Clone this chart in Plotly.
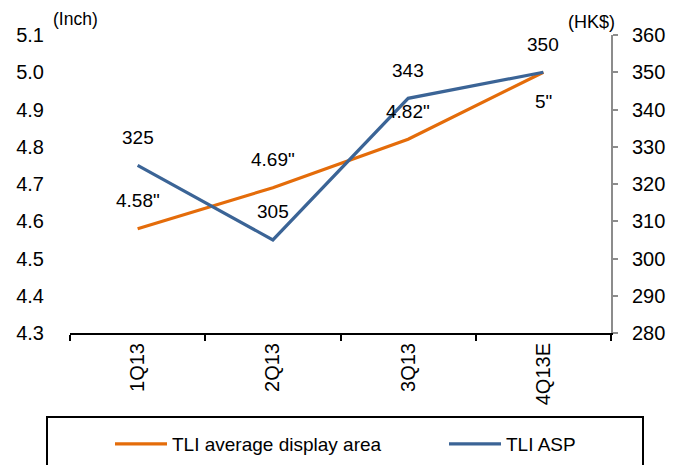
import plotly.graph_objects as go

categories = ["1Q13", "2Q13", "3Q13", "4Q13E"]
display_area = [4.58, 4.69, 4.82, 5.0]
display_labels = ['4.58"', '4.69"', '4.82"', '5"']
asp = [325, 305, 343, 350]
asp_labels = ["325", "305", "343", "350"]
left_ticks = [4.3, 4.4, 4.5, 4.6, 4.7, 4.8, 4.9, 5.0, 5.1]
right_ticks = [280, 290, 300, 310, 320, 330, 340, 350, 360]

ORANGE = "#E46C0A"
BLUE = "#3B6496"
FONT = "Liberation Sans, Arial, sans-serif"

W, H = 674, 465
L, R, T, B = 70, 611, 35, 333
pw, ph = R - L, B - T
def px(x):
    return (x - L) / pw
def py(y):
    return (B - y) / ph

fig = go.Figure()
fig.add_trace(go.Scatter(x=categories, y=display_area, mode="lines",
                         name="TLI average display area", legend="legend",
                         line=dict(color=ORANGE, width=3.2), yaxis="y"))
fig.add_trace(go.Scatter(x=categories, y=asp, mode="lines",
                         name="TLI ASP", legend="legend2",
                         line=dict(color=BLUE, width=3.2), yaxis="y2"))

annotations = []
for i, c in enumerate(categories):
    annotations.append(dict(x=c, y=asp[i], xref="x", yref="y2", text=asp_labels[i],
                            showarrow=False, yshift=28, font=dict(size=19, color="#000")))
    shift = -29 if i == len(categories) - 1 else 28
    annotations.append(dict(x=c, y=display_area[i], xref="x", yref="y", text=display_labels[i],
                            showarrow=False, yshift=shift, font=dict(size=19, color="#000")))

annotations.append(dict(x=px(75), y=py(19), xref="paper", yref="paper", text="(Inch)",
                        showarrow=False, xanchor="center", yanchor="middle",
                        font=dict(size=17.5, color="#000")))
annotations.append(dict(x=px(591), y=py(22), xref="paper", yref="paper", text="(HK$)",
                        showarrow=False, xanchor="center", yanchor="middle",
                        font=dict(size=18, color="#000")))

legend_common = dict(orientation="h", yanchor="middle", xanchor="left",
                     font=dict(size=19), itemwidth=52,
                     bgcolor="rgba(0,0,0,0)", borderwidth=0)

fig.update_layout(
    width=W, height=H,
    margin=dict(l=L, r=W - R, t=T, b=H - B, pad=0, autoexpand=False),
    paper_bgcolor="white", plot_bgcolor="white",
    font=dict(family=FONT, size=18, color="#000"),
    showlegend=True,
    legend=dict(x=px(110), y=py(444), **legend_common),
    legend2=dict(x=px(444), y=py(444), **legend_common),
    xaxis=dict(type="category", showline=True, linecolor="#000", linewidth=2,
               ticks="outside", ticklen=6, tickwidth=2, tickcolor="#000",
               tickson="boundaries", tickangle=-90, tickfont=dict(size=20),
               showgrid=False, zeroline=False, range=[-0.5, 3.5]),
    yaxis=dict(range=[4.3, 5.1], tickvals=left_ticks, tickformat=".1f",
               showline=False, ticks="", showgrid=False, zeroline=False,
               tickfont=dict(size=20), ticklabelstandoff=25),
    yaxis2=dict(range=[280, 360], tickvals=right_ticks, overlaying="y", side="right",
                showline=True, linecolor="#8c8c8c", linewidth=2,
                ticks="outside", ticklen=5, tickwidth=2, tickcolor="#8c8c8c",
                showgrid=False, zeroline=False, tickfont=dict(size=20),
                ticklabelstandoff=10),
    annotations=annotations,
    shapes=[dict(type="rect", xref="paper", yref="paper",
                 x0=px(47), x1=px(643), y0=py(417), y1=py(475),
                 line=dict(color="#000", width=2), fillcolor="rgba(0,0,0,0)")],
)

fig.write_html("out.html")
